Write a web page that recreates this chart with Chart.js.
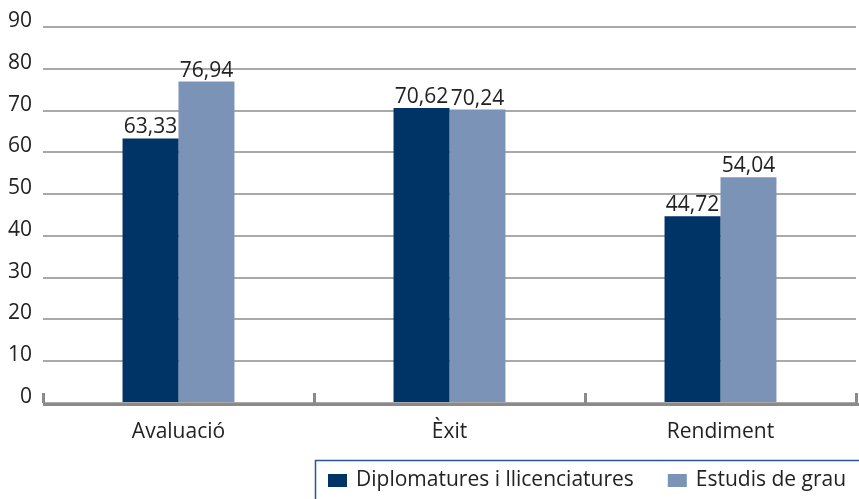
<!DOCTYPE html>
<html>
<head>
<meta charset="utf-8">
<script src="https://cdn.jsdelivr.net/npm/chart.js@4"></script>
<style>
  html, body { margin: 0; padding: 0; background: #fff; }
  #wrap { width: 859px; height: 499px; }
</style>
</head>
<body>
<div id="wrap"><canvas id="chart" width="859" height="499"></canvas></div>
<script>
// Data
const categories = ['Avaluació', 'Èxit', 'Rendiment'];
const diplomatures = [63.33, 70.62, 44.72];
const estudisGrau = [76.94, 70.24, 54.04];
const seriesNames = ['Diplomatures i llicenciatures', 'Estudis de grau'];
const yMin = 0, yMax = 90, yStep = 10;

const FONT = '"Open Sans", Lato, sans-serif';
const DARK = '#003366';
const LIGHT = '#7c93b8';

function fmt(v) {
  return v.toFixed(2).replace('.', ',');
}

// value labels, bottom axis with category ticks, boxed legend
const decorations = {
  id: 'decorations',
  afterDatasetsDraw(chart) {
    const ctx = chart.ctx;
    ctx.save();
    ctx.font = '21px ' + FONT;
    ctx.fillStyle = '#222';
    ctx.textAlign = 'center';
    ctx.textBaseline = 'alphabetic';
    chart.data.datasets.forEach((ds, di) => {
      const meta = chart.getDatasetMeta(di);
      meta.data.forEach((bar, i) => {
        ctx.fillText(fmt(ds.data[i]), bar.x, bar.y - 5);
      });
    });
    ctx.restore();
  },
  afterDraw(chart) {
    const ctx = chart.ctx;
    const area = chart.chartArea;
    const x = chart.scales.x;
    ctx.save();
    // bottom axis line
    ctx.strokeStyle = '#8a8a8a';
    ctx.lineWidth = 3;
    ctx.beginPath();
    ctx.moveTo(area.left, area.bottom + 1.5);
    ctx.lineTo(chart.width, area.bottom + 1.5);
    ctx.stroke();
    // category boundary ticks pointing up
    const n = categories.length;
    const step = (x.right - x.left) / n;
    for (let i = 0; i <= n; i++) {
      const px = Math.round(x.left + i * step) + 0.5;
      ctx.beginPath();
      ctx.moveTo(px, area.bottom - 10);
      ctx.lineTo(px, area.bottom);
      ctx.stroke();
    }
    // legend box
    ctx.strokeStyle = '#2b5591';
    ctx.lineWidth = 1.5;
    ctx.strokeRect(315.5, 460.5, 600, 60);
    ctx.font = '21px ' + FONT;
    ctx.fillStyle = '#222';
    ctx.textAlign = 'left';
    ctx.textBaseline = 'middle';
    const colors = [DARK, LIGHT];
    let lx = 328;
    seriesNames.forEach((name, i) => {
      ctx.fillStyle = colors[i];
      ctx.fillRect(lx, 474, 19, 13);
      ctx.fillStyle = '#222';
      ctx.fillText(name, lx + 28, 480);
      lx += 28 + ctx.measureText(name).width + 34;
    });
    ctx.restore();
  }
};

new Chart(document.getElementById('chart').getContext('2d'), {
  type: 'bar',
  data: {
    labels: categories,
    datasets: [
      {
        label: seriesNames[0],
        data: diplomatures,
        backgroundColor: DARK,
        borderWidth: 0,
        barPercentage: 1,
        categoryPercentage: 0.413
      },
      {
        label: seriesNames[1],
        data: estudisGrau,
        backgroundColor: LIGHT,
        borderWidth: 0,
        barPercentage: 1,
        categoryPercentage: 0.413
      }
    ]
  },
  options: {
    responsive: false,
    animation: false,
    layout: {
      padding: { top: 27, right: 3, bottom: 0, left: 0 }
    },
    plugins: {
      legend: { display: false },
      tooltip: { enabled: false },
      title: { display: false }
    },
    scales: {
      x: {
        grid: { display: false, drawTicks: false },
        border: { display: false },
        ticks: {
          color: '#222',
          padding: 16,
          font: { family: FONT, size: 21 }
        },
        afterFit(scale) { scale.height = 96; }
      },
      y: {
        min: yMin,
        max: yMax,
        grid: {
          color: '#a9a9a9',
          lineWidth: 2,
          drawTicks: false
        },
        border: { display: false },
        ticks: {
          stepSize: yStep,
          color: '#222',
          padding: 11,
          labelOffset: -6,
          font: { family: FONT, size: 21 }
        },
        afterFit(scale) { scale.width = 43; }
      }
    }
  },
  plugins: [decorations]
});
</script>
</body>
</html>
